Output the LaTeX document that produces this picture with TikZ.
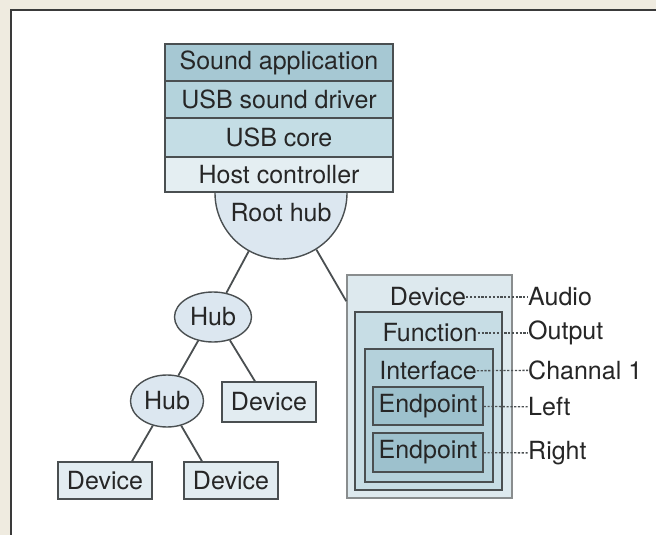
\documentclass[tikz,border=0pt]{standalone}
\usepackage{fontspec}
\setmainfont{TeX Gyre Heros}
\usetikzlibrary{shapes.geometric,calc}
\definecolor{framebeige}{HTML}{EFEBE0}
\definecolor{framegray}{HTML}{3A3A3A}
\definecolor{txtgray}{HTML}{262626}
\definecolor{edgegray}{HTML}{4A4F51}
\definecolor{appblue}{HTML}{A6C8D3}
\definecolor{drvblue}{HTML}{B4D3DC}
\definecolor{coreblue}{HTML}{C4DDE5}
\definecolor{hostblue}{HTML}{E4EEF2}
\definecolor{hubblue}{HTML}{DCE7F0}
\definecolor{devblue}{HTML}{E2ECF1}
\definecolor{outerblue}{HTML}{DDE9EE}
\definecolor{funcblue}{HTML}{C7DDE5}
\definecolor{ifblue}{HTML}{B4D1DB}
\definecolor{epblue}{HTML}{9DC1CD}
\begin{document}
\begin{tikzpicture}[x=1pt,y=-1pt,font=\fontsize{25}{28}\selectfont,text=txtgray,
    layer/.style={rectangle,draw=edgegray,line width=1.4pt,minimum width=228pt,inner sep=0pt},
    hub node/.style={ellipse,draw=edgegray,fill=hubblue,line width=1.4pt,inner sep=0pt},
    dev node/.style={rectangle,draw=edgegray,fill=devblue,line width=1.4pt,minimum width=94pt,inner sep=0pt},
    nest/.style={rectangle,draw=edgegray,line width=1.4pt,inner sep=0pt},
    tag/.style={inner sep=0pt},
    link/.style={draw=edgegray,line width=1.8pt},
    dots/.style={draw=edgegray,line width=1.3pt,dash pattern=on 2.2pt off 1.6pt}]
                \useasboundingbox (0,0) rectangle (656,535);
                % frame
                \fill[framebeige] (0,0) rectangle (656,535);
                \fill[white] (11,10) rectangle (656,535);
                \draw[line width=1.5pt,framegray] (11,535) -- (11,10) -- (656,10);

                % host stack
                \node[circle,draw=edgegray,fill=hubblue,line width=1.4pt,minimum size=132pt,inner sep=0pt,
                      label={[yshift=-20pt]center:Root hub}] at (281,193) (root) {};
                \node[layer,fill=appblue,minimum height=37pt] at (279,62.5) (app) {Sound application};
                \node[layer,fill=drvblue,minimum height=37pt] at (279,99.5) (drv) {USB sound driver};
                \node[layer,fill=coreblue,minimum height=39pt] at (279,137.5) (core) {USB core};
                \node[layer,fill=hostblue,minimum height=35pt] at (279,174.5) (host) {Host controller};

                % tree
                \node[hub node,minimum width=77pt,minimum height=50pt] at (213,317) (hubA) {Hub};
                \node[hub node,minimum width=73pt,minimum height=52pt] at (167,401) (hubB) {Hub};
                \node[dev node,minimum height=40pt] at (269,402) (devR) {Device};
                \node[dev node,minimum height=37pt] at (105,480.5) (devL) {Device};
                \node[dev node,minimum height=37pt] at (231,480.5) (devM) {Device};

                % audio device
                \node[nest,fill=outerblue,draw=edgegray!65,minimum width=165pt,minimum height=223pt] at (429.5,386.5) (dev) {};
                \node[nest,fill=funcblue,minimum width=147pt,minimum height=178pt] at (428.5,401) (func) {};
                \node[nest,fill=ifblue,minimum width=128pt,minimum height=133pt] at (429,415.5) (intf) {};
                \node[nest,fill=epblue,minimum width=110pt,minimum height=38pt] at (428,406) (epL) {Endpoint};
                \node[nest,fill=epblue,minimum width=110pt,minimum height=39pt] at (428,452.5) (epR) {Endpoint};
                \node[tag] at (428,297) (devtxt) {Device};
                \node[tag] at (430,333) (functxt) {Function};
                \node[tag] at (428,371) (intftxt) {Interface};

                \node[tag,anchor=west] at (528,297) (audio) {Audio};
                \node[tag,anchor=west] at (528,333) (output) {Output};
                \node[tag,anchor=west] at (528,370) (chan) {Channal 1};
                \node[tag,anchor=west] at (528,407) (left) {Left};
                \node[tag,anchor=west] at (528,453) (right) {Right};

                \path[link] (root.241) edge (hubA.61);
                \path[link] (root.302) edge ($(dev.north west)!0.12!(dev.south west)$);
                \path[link] (hubA.238) edge (hubB.66);
                \path[link] (hubA.306) edge ([xshift=-14pt]devR.north);
                \path[link] (hubB.240) edge ([xshift=27pt]devL.north);
                \path[link] (hubB.300) edge ([xshift=-29pt]devM.north);

                \path[dots]
                    (devtxt) edge (audio)
                    (functxt) edge (output)
                    (intftxt) edge (chan)
                    (epL) edge (left)
                    (epR) edge (right)
                    ;
            \end{tikzpicture}
\end{document}
